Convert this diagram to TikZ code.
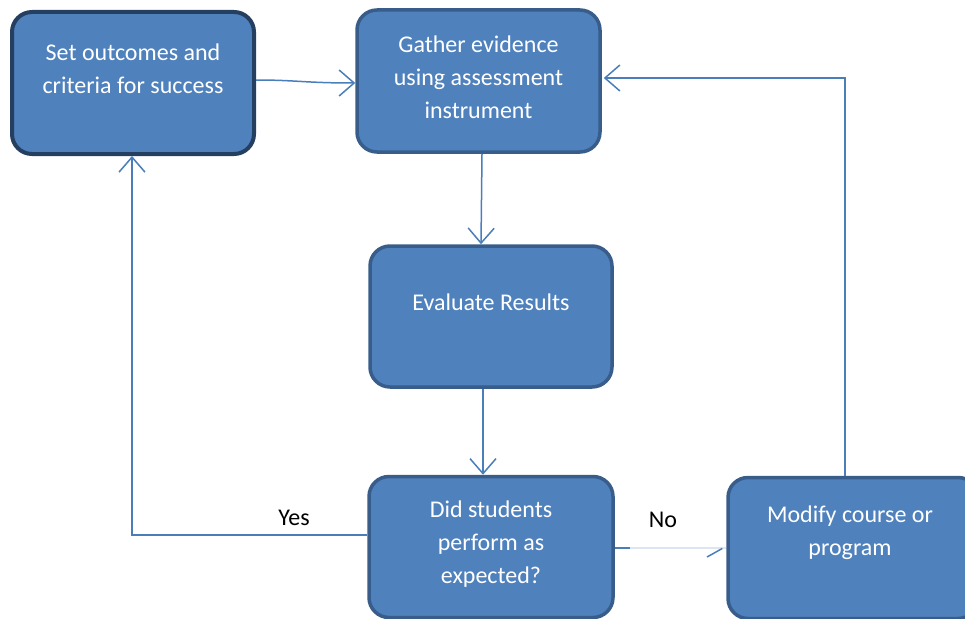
\documentclass[tikz,border=0pt]{standalone}
\usepackage{fontspec}
\setmainfont{Carlito}
\usetikzlibrary{arrows.meta}
\definecolor{boxfill}{HTML}{4F81BD}
\definecolor{boxedge}{HTML}{385D8A}
\definecolor{boxedgedark}{HTML}{253F61}
\definecolor{linkc}{HTML}{4A7EBB}
\definecolor{faintc}{HTML}{DCE6F2}
\tikzset{
  box/.style={draw=boxedge, line width=3.5pt, fill=boxfill, rounded corners=20pt, inner sep=0pt},
  txt/.style={text=white, align=center, font=\fontsize{24}{33}\selectfont, inner sep=0pt},
  lbl/.style={text=black, font=\fontsize{24}{28}\selectfont, inner sep=0pt},
  link/.style={draw=linkc, line width=1.5pt, -{Straight Barb[length=15pt,width=26pt,line width=1.5pt]}},
}
\begin{document}
\begin{tikzpicture}[x=1pt,y=-1pt]
\useasboundingbox (0,0) rectangle (965,618);
% boxes
\node[box, draw=boxedgedark, line width=4pt, minimum width=242pt, minimum height=142pt] (b1) at (133,83) {};
\node[box, minimum width=243pt, minimum height=142pt] (b2) at (478.5,81) {};
\node[box, minimum width=242pt, minimum height=141pt] (b3) at (491,316.5) {};
\node[box, minimum width=244pt, minimum height=141pt] (b4) at (491,547) {};
\node[box, minimum width=250pt, minimum height=141pt] (b5) at (853,548) {};
% texts
\node[txt] (t1) at (133,68.5) {Set outcomes and\\criteria for success};
\node[txt] (t2) at (478.5,77) {Gather evidence\\using assessment\\instrument};
\node[txt] (t3) at (491,302) {Evaluate Results};
\node[txt] (t4) at (491,544) {Did students\\perform as\\expected?};
\node[txt] (t5) at (850,533) {Modify course or\\program};
\node[lbl] (yes) at (294,518) {Yes};
\node[lbl] (no) at (663,520) {No};
% connectors
\draw[link] ([yshift=3pt]b1.east) .. controls ([xshift=40pt,yshift=3pt]b1.east) and ([xshift=-50pt,yshift=-2pt]b2.west) .. ([yshift=-2pt]b2.west);
\draw[link] ([xshift=3.5pt]b2.south) -- ([xshift=-10pt]b3.north);
\draw[link] ([xshift=-8pt]b3.south) -- ([xshift=-8pt]b4.north);
\coordinate (yc) at (132,535);
\draw[link] ([yshift=12pt]b4.west) -- (yc) -- (yc |- b1.south);
\coordinate (mc) at (845,78);
\draw[link] (mc |- b5.north) -- (mc) -- ([xshift=2pt]mc -| b2.east);
% No connector (faint)
\coordinate (nostub) at (630,548);
\coordinate (nobarb) at (707,557);
\draw[draw=faintc, line width=1.2pt] (nostub) -- (b5.west |- nostub);
\draw[draw=linkc, line width=1.5pt] (b4.east |- nostub) -- (nostub);
\draw[draw=linkc, line width=1.5pt] (nobarb) -- ([xshift=-4pt,yshift=-0.5pt]b5.west);
\end{tikzpicture}
\end{document}
